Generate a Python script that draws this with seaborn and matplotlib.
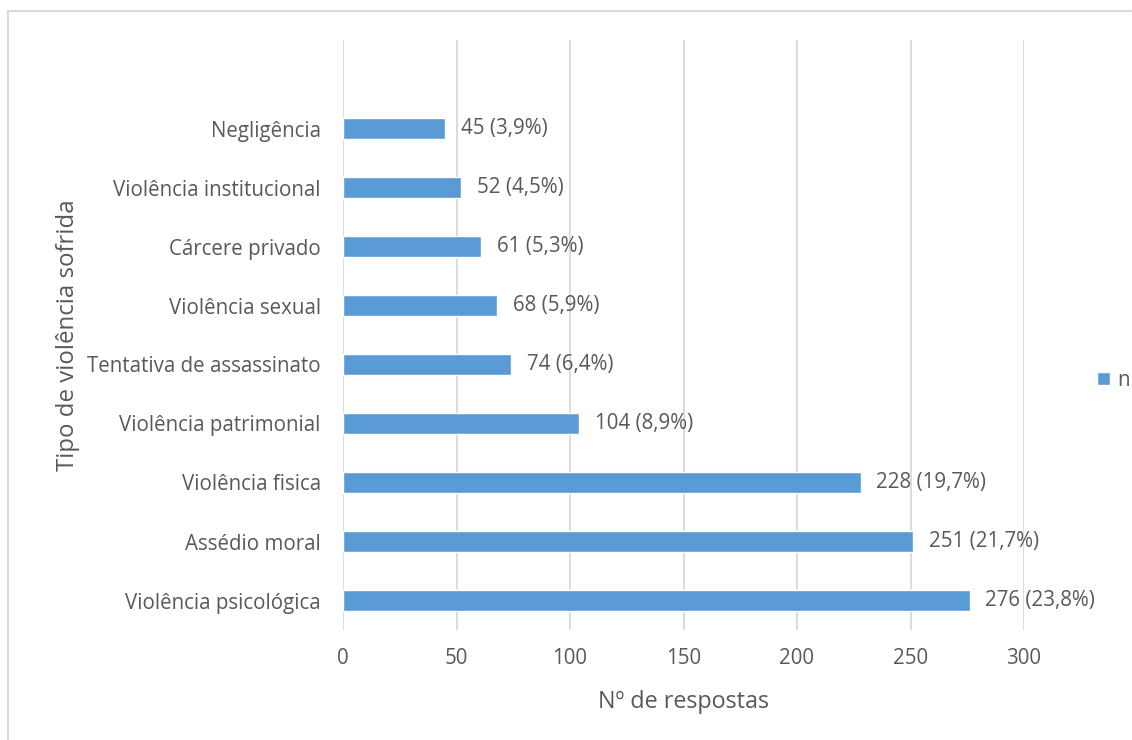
import matplotlib
matplotlib.use("Agg")
import matplotlib.pyplot as plt
from matplotlib.lines import Line2D
import seaborn as sns
import pandas as pd

categories = ["Violência psicológica", "Assédio moral", "Violência fisica",
              "Violência patrimonial", "Tentativa de assassinato", "Violência sexual",
              "Cárcere privado", "Violência institucional", "Negligência"]
values = [276, 251, 228, 104, 74, 68, 61, 52, 45]
percents = ["23,8%", "21,7%", "19,7%", "8,9%", "6,4%", "5,9%", "5,3%", "4,5%", "3,9%"]
x_ticks = [0, 50, 100, 150, 200, 250, 300]

sns.set_theme(style="white")
plt.rcParams['font.family'] = ['Open Sans', 'DejaVu Sans']

TXT = "#595959"
BAR = "#5B9BD5"
GRID = "#D9D9D9"
FS = 14.8

fig = plt.figure(figsize=(11.32, 7.4), dpi=100)
ax = fig.add_axes([343/1132, 1 - 630/740, (1024 - 343)/1132, (630 - 40)/740])

order = [""] + categories[::-1]
df = pd.DataFrame({"cat": categories, "n": values})
sns.barplot(data=df, y="cat", x="n", order=order, color=BAR, width=0.34,
            orient="h", ax=ax, label="n", saturation=1)

ax.set_xlim(0, 300)
ax.set_ylim(len(order) - 0.5, -0.5)
ax.set_xticks(x_ticks)
ax.xaxis.grid(True, color=GRID, linewidth=1.3)
ax.set_axisbelow(True)
for s in ax.spines.values():
    s.set_visible(False)
ax.tick_params(axis="y", length=0, labelsize=FS, colors=TXT, pad=16)
ax.tick_params(axis="x", length=0, labelsize=FS, colors=TXT, pad=13)
ax.set_yticks(range(len(order)))
ax.set_yticklabels(order)

for c, v, p in zip(categories, values, percents):
    yi = order.index(c)
    ax.text(v + 7, yi, f"{v} ({p})", va="center", ha="left", fontsize=FS, color=TXT)

ax.set_xlabel("Nº de respostas", fontsize=16.8, color=TXT, labelpad=15)
ax.set_ylabel("Tipo de violência sofrida", fontsize=17.3, color=TXT, labelpad=5)

leg = ax.legend(loc="center left", bbox_to_anchor=((1097 - 343) / 681, (630 - 380) / 590),
                frameon=False, fontsize=FS, handlelength=0.62, handleheight=0.62,
                handletextpad=0.35, borderpad=0, borderaxespad=0, labelcolor=TXT)

fig.add_artist(Line2D([8/1132, 8/1132], [0, 1 - 11/740], transform=fig.transFigure,
                      color="#D9D9D9", linewidth=1.5))
fig.add_artist(Line2D([8/1132, 1131/1132], [1 - 11/740, 1 - 11/740], transform=fig.transFigure,
                      color="#D9D9D9", linewidth=1.5))

fig.savefig("out.png", dpi=100, facecolor="white")
